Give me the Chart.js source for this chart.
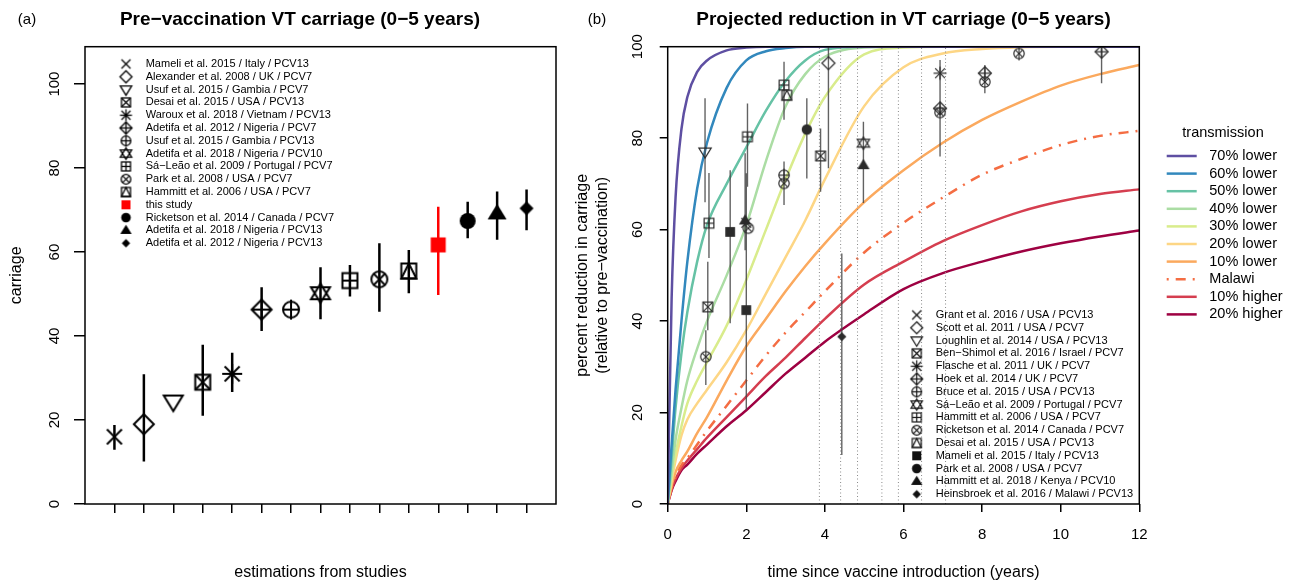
<!DOCTYPE html>
<html lang="en">
<head>
<meta charset="UTF-8">
<title>VT carriage before and after vaccination</title>
<script src="https://cdn.jsdelivr.net/npm/chart.js"></script>
<style>
  body { margin: 0; background: #fff; }
  #wrap { position: relative; width: 1295px; height: 586px; }
  canvas { position: absolute; top: 0; }
</style>
</head>
<body>
<div id="wrap">
  <canvas id="preChart" width="580" height="586" style="left:0"></canvas>
  <canvas id="redChart" width="735" height="586" style="left:560px"></canvas>
</div>
<script>
// ---------- panel (a): pre-vaccination carriage ----------
const preStudies = [
  'Mameli et al. 2015 / Italy / PCV13',
  'Alexander et al. 2008 / UK / PCV7',
  'Usuf et al. 2015 / Gambia / PCV7',
  'Desai et al. 2015 / USA / PCV13',
  'Waroux et al. 2018 / Vietnam / PCV13',
  'Adetifa et al. 2012 / Nigeria / PCV7',
  'Usuf et al. 2015 / Gambia / PCV13',
  'Adetifa et al. 2018 / Nigeria / PCV10',
  'Sá−Leão et al. 2009 / Portugal / PCV7',
  'Park et al. 2008 / USA / PCV7',
  'Hammitt et al. 2006 / USA / PCV7',
  'this study',
  'Ricketson et al. 2014 / Canada / PCV7',
  'Adetifa et al. 2018 / Nigeria / PCV13',
  'Adetifa et al. 2012 / Nigeria / PCV13'
];
const preGlyph = ['x', 'diamond', 'tridown', 'sqx', 'ast', 'diaplus', 'circplus', 'david',
                  'sqplus', 'circx', 'sqtri', 'fsq', 'fcirc', 'ftri', 'fdia'];
const preValue = [16, 19, 24.4, 29, 31, 46.3, 46.3, 50.2, 53.2, 53.5, 55.5, 61.7, 67.4, 69.2, 70.4];
const preLow   = [12.9, 10.1, null, 21, 26.7, 41.2, null, 44, 49.4, 45.8, 50.2, 49.8, 63.3, 62.9, 65.2];
const preHigh  = [18.8, 30.9, null, 37.9, 36, 51.6, null, 56.4, 56.9, 62.1, 60.5, 70.8, 72, 74.4, 74.9];
const thisStudy = 11; // index of the red entry

// ---------- panel (b): projected reduction ----------
const redStudies = [
  'Grant et al. 2016 / USA / PCV13',
  'Scott et al. 2011 / USA / PCV7',
  'Loughlin et al. 2014 / USA / PCV13',
  'Ben−Shimol et al. 2016 / Israel / PCV7',
  'Flasche et al. 2011 / UK / PCV7',
  'Hoek et al. 2014 / UK / PCV7',
  'Bruce et al. 2015 / USA / PCV13',
  'Sá−Leão et al. 2009 / Portugal / PCV7',
  'Hammitt et al. 2006 / USA / PCV7',
  'Ricketson et al. 2014 / Canada / PCV7',
  'Desai et al. 2015 / USA / PCV13',
  'Mameli et al. 2015 / Italy / PCV13',
  'Park et al. 2008 / USA / PCV7',
  'Hammitt et al. 2018 / Kenya / PCV10',
  'Heinsbroek et al. 2016 / Malawi / PCV13'
];
const redLegendGlyph = ['x', 'diamond', 'tridown', 'sqx', 'ast', 'diaplus', 'circplus', 'david',
                        'sqplus', 'circx', 'sqtri', 'fsq', 'fcirc', 'ftri', 'fdia'];

// observed reductions: time (years), value, interval, glyph
const obsT     = [0.95, 1.05, 1.02, 0.97, 1.59, 2.03, 1.97, 2.0, 2.05, 2.0, 2.96, 3.03, 2.96, 2.96, 3.54, 3.89, 4.09, 4.43, 4.98, 4.98, 6.93, 6.93, 6.93, 8.07, 8.07, 8.94, 11.04];
const obsV     = [77.0, 61.4, 43.1, 32.2, 59.5, 80.3, 62.0, 61.5, 60.3, 42.4, 91.6, 89.4, 71.9, 70.1, 81.9, 76.1, 96.4, 36.6, 78.9, 74.1, 94.2, 86.5, 85.6, 94.2, 92.3, 98.5, 98.9];
const obsLo    = [66, 53.8, 38, 26, 39.5, 69.4, 55.5, null, null, 20.6, 84, null, 65.4, null, 71.2, 68.3, 73.4, 10.7, 65.8, null, 76, null, null, 89.8, null, 97, 92];
const obsHi    = [88.7, 72.4, 53, 38, 73, 87.6, 76.7, null, null, 72.3, 96.7, null, 74.9, null, 88.7, 82.1, 100, 54.8, 83.6, null, 97.1, null, null, 96, null, 100, 100];
const obsGlyph = ['tridown', 'sqplus', 'sqx', 'circx', 'fsq', 'sqplus', 'ftri', 'x', 'circx', 'fsq', 'sqplus', 'sqtri', 'circplus', 'circx', 'fcirc', 'sqx', 'diamond', 'fdia', 'david', 'ftri', 'ast', 'diaplus', 'circx', 'diaplus', 'circx', 'circx', 'diaplus'];

// vertical reference times (dotted)
const refTimes = [3.86, 4.40, 4.83, 5.45, 5.87, 6.46, 7.07];

// model projections
const curveT = [0, 0.1, 0.2, 0.35, 0.5, 0.75, 1, 1.5, 2, 2.5, 3, 3.5, 4, 5, 6, 7, 8, 9, 10, 11, 12];
const low70  = [0, 45, 67, 82, 89, 94.5, 97, 99.2, 99.8, 100, 100, 100, 100, 100, 100, 100, 100, 100, 100, 100, 100];
const low60  = [0, 13, 25, 40, 53, 69, 79, 91, 97, 99, 99.7, 100, 100, 100, 100, 100, 100, 100, 100, 100, 100];
const low50  = [0, 10, 21, 33, 42, 53, 61, 70, 78, 86, 92.5, 97, 99.3, 100, 100, 100, 100, 100, 100, 100, 100];
const low40  = [0, 7, 14, 21, 27, 34, 40, 50, 61, 75, 87, 94, 97.8, 99.8, 100, 100, 100, 100, 100, 100, 100];
const low30  = [0, 6, 11, 17, 22, 27, 31, 39, 49, 60, 71, 81, 89, 98.3, 99.8, 100, 100, 100, 100, 100, 100];
const low20  = [0, 5, 9.5, 15, 18.5, 22, 25, 31, 38, 46, 54, 62, 71, 87, 95.5, 98.5, 99.5, 99.9, 100, 100, 100];
const low10  = [0, 4, 7, 9.5, 11.5, 15.5, 19, 27, 34.5, 40.5, 46.5, 52, 57, 66, 73, 79, 84, 88, 91.5, 94, 96];
const malawi = [0, 3.5, 6, 8.5, 10, 13, 16, 21.5, 27, 32.5, 37.5, 42, 46.5, 55, 61.5, 67, 72, 75.5, 78.5, 80.5, 81.6];
const high10 = [0, 3.2, 5.5, 7.8, 9.5, 12, 14.5, 19, 23.5, 28, 32, 36.3, 40.5, 48, 53, 57.5, 61, 64, 66.2, 67.8, 68.8];
const high20 = [0, 3, 5, 7.4, 8.6, 11, 13, 17, 20.5, 24.5, 28.5, 32, 35.5, 41.5, 47, 50.5, 53, 55.2, 57, 58.5, 59.8];

const scenarioLabels = ['70% lower', '60% lower', '50% lower', '40% lower', '30% lower',
                        '20% lower', '10% lower', 'Malawi', '10% higher', '20% higher'];
const scenarioValues = [low70, low60, low50, low40, low30, low20, low10, malawi, high10, high20];
const scenarioColors = ['#5E4FA2', '#3288BD', '#66C2A5', '#ABDDA4', '#D9EC8C',
                        '#FDD685', '#FBA95E', '#F46D43', '#D53E4F', '#9E0142'];
const dashDot = [2, 7, 10, 7];

const FONT = '"Liberation Sans", Arial, Helvetica, sans-serif';

// R-like plotting symbols drawn on small canvases, used as point styles
function glyph(kind, size, color, lw) {
  const s = Math.ceil(size + lw * 2 + 2);
  const c = document.createElement('canvas');
  c.width = s; c.height = s;
  const g = c.getContext('2d');
  const m = s / 2, r = size / 2, h = r * 0.75;
  g.strokeStyle = color; g.fillStyle = color; g.lineWidth = lw;
  const line = (x1, y1, x2, y2) => { g.beginPath(); g.moveTo(m + x1, m + y1); g.lineTo(m + x2, m + y2); g.stroke(); };
  const poly = (pts, fill) => {
    g.beginPath();
    pts.forEach((p, i) => i ? g.lineTo(m + p[0], m + p[1]) : g.moveTo(m + p[0], m + p[1]));
    g.closePath();
    fill ? g.fill() : g.stroke();
  };
  const circle = (rad, fill) => { g.beginPath(); g.arc(m, m, rad, 0, Math.PI * 2); fill ? g.fill() : g.stroke(); };
  const square = () => g.strokeRect(m - h, m - h, 2 * h, 2 * h);
  const diamond = (fill, k) => poly([[0, -r * k], [r * k, 0], [0, r * k], [-r * k, 0]], fill);
  const up = [[-r * 0.95, r * 0.6], [r * 0.95, r * 0.6], [0, -r * 0.95]];
  const down = [[-r * 0.95, -r * 0.6], [r * 0.95, -r * 0.6], [0, r * 0.95]];
  switch (kind) {
    case 'x': line(-h, -h, h, h); line(-h, h, h, -h); break;
    case 'diamond': diamond(false, 1); break;
    case 'tridown': poly(down, false); break;
    case 'sqx': square(); line(-h, -h, h, h); line(-h, h, h, -h); break;
    case 'ast': line(-r, 0, r, 0); line(0, -r, 0, r); line(-h, -h, h, h); line(-h, h, h, -h); break;
    case 'diaplus': diamond(false, 1); line(-r, 0, r, 0); line(0, -r, 0, r); break;
    case 'circplus': circle(r * 0.8, false); line(-r * 0.8, 0, r * 0.8, 0); line(0, -r, 0, r); break;
    case 'david': poly(up, false); poly(down, false); break;
    case 'sqplus': square(); line(-h, 0, h, 0); line(0, -h, 0, h); break;
    case 'circx': circle(r * 0.8, false); line(-h * 0.8, -h * 0.8, h * 0.8, h * 0.8); line(-h * 0.8, h * 0.8, h * 0.8, -h * 0.8); break;
    case 'sqtri': square(); poly([[-h, h], [h, h], [0, -h]], false); break;
    case 'fsq': g.fillRect(m - h, m - h, 2 * h, 2 * h); break;
    case 'fcirc': circle(r * 0.8, true); break;
    case 'ftri': poly(up, true); break;
    case 'fdia': diamond(true, 0.7); break;
  }
  return c;
}

function boxPlugin(id) {
  return {
    id: id,
    afterDatasetsDraw(chart) {
      const a = chart.chartArea, g = chart.ctx;
      g.save();
      g.strokeStyle = '#000'; g.lineWidth = 1.5;
      g.strokeRect(a.left, a.top, a.right - a.left, a.bottom - a.top);
      g.restore();
    }
  };
}

function text(g, str, x, y, font, align, rot) {
  g.save();
  g.font = font; g.fillStyle = '#000';
  g.textAlign = align || 'center'; g.textBaseline = 'middle';
  g.translate(x, y);
  if (rot) g.rotate(rot);
  g.fillText(str, 0, 0);
  g.restore();
}

function yTickLabels(chart, x) {
  const s = chart.scales.y;
  s.ticks.forEach(t => text(chart.ctx, String(t.value), x, s.getPixelForValue(t.value), '15px ' + FONT, 'center', -Math.PI / 2));
}

// ---------- chart (a) ----------
const preMarks = preGlyph.map((k, i) => glyph(k, 20, i === thisStudy ? '#f00' : '#000', 2));
const preLegendMarks = preGlyph.map((k, i) => glyph(k, 12, i === thisStudy ? '#f00' : '#000', 1.3));

function bars(xs, lo, hi, skip) {
  const out = [];
  xs.forEach((x, i) => {
    if (lo[i] == null || (skip && skip(i))) return;
    out.push({ x: x, y: lo[i] }, { x: x, y: hi[i] }, { x: x, y: null });
  });
  return out;
}

const preX = preValue.map((v, i) => i + 1);

new Chart(document.getElementById('preChart'), {
  type: 'scatter',
  data: {
    datasets: [
      {
        data: preX.map((x, i) => ({ x: x, y: preValue[i] })),
        pointStyle: preMarks, pointRadius: 6, order: 0
      },
      {
        data: bars(preX, preLow, preHigh, i => i === thisStudy),
        showLine: true, spanGaps: false, borderColor: '#000', borderWidth: 2.5,
        pointRadius: 0, order: 1
      },
      {
        data: bars(preX, preLow, preHigh, i => i !== thisStudy),
        showLine: true, spanGaps: false, borderColor: '#f00', borderWidth: 2.5,
        pointRadius: 0, order: 1
      }
    ]
  },
  options: {
    responsive: false,
    animation: false,
    layout: { padding: { top: 46.7, right: 24, bottom: 0, left: 0 } },
    scales: {
      x: {
        type: 'linear', min: 0, max: 16,
        afterFit: s => { s.height = 82; },
        afterBuildTicks: s => { s.ticks = preX.map(v => ({ value: v })); },
        ticks: { display: false },
        grid: { drawOnChartArea: false, tickLength: 9, color: '#000', lineWidth: 1.5 },
        border: { display: false }
      },
      y: {
        min: 0, max: 108.9,
        afterFit: s => { s.width = 85; },
        afterBuildTicks: s => { s.ticks = [0, 20, 40, 60, 80, 100].map(v => ({ value: v })); },
        ticks: { display: false },
        grid: { drawOnChartArea: false, tickLength: 11, color: '#000', lineWidth: 1.5 },
        border: { display: false }
      }
    },
    plugins: { legend: { display: false }, tooltip: { enabled: false } }
  },
  plugins: [boxPlugin('boxA'), {
    id: 'textA',
    afterDraw(chart) {
      const g = chart.ctx, a = chart.chartArea;
      text(g, '(a)', 27, 20, '15px ' + FONT);
      text(g, 'Pre−vaccination VT carriage (0−5 years)', 300, 20, 'bold 19px ' + FONT);
      text(g, 'carriage', 17, (a.top + a.bottom) / 2, '16px ' + FONT, 'center', -Math.PI / 2);
      text(g, 'estimations from studies', (a.left + a.right) / 2, 573, '16px ' + FONT);
      yTickLabels(chart, 55);
      preStudies.forEach((s, i) => {
        const y = 64 + i * 12.8;
        const m = preLegendMarks[i];
        g.drawImage(m, 126 - m.width / 2, y - m.height / 2);
        text(g, s, 145.7, y, '11px ' + FONT, 'left');
      });
    }
  }]
});

// ---------- chart (b) ----------
const obsMarks = obsGlyph.map(k => glyph(k, 13, '#2b2b2b', 1.2));
const redLegendMarks = redLegendGlyph.map(k => glyph(k, 12, '#111', 1.2));

const curveSets = scenarioValues.map((vals, i) => ({
  data: curveT.map((t, j) => ({ x: t, y: vals[j] })),
  showLine: true, pointRadius: 0, borderWidth: 2.5,
  borderColor: scenarioColors[i],
  borderDash: scenarioLabels[i] === 'Malawi' ? dashDot : [],
  cubicInterpolationMode: 'monotone',
  order: 10 + i
}));

const refLines = [];
refTimes.forEach(t => refLines.push({ x: t, y: 0 }, { x: t, y: 100 }, { x: t, y: null }));

new Chart(document.getElementById('redChart'), {
  type: 'scatter',
  data: {
    datasets: [
      { data: obsT.map((t, i) => ({ x: t, y: obsV[i] })), pointStyle: obsMarks, pointRadius: 6, order: 0 },
      {
        data: bars(obsT, obsLo, obsHi), showLine: true, spanGaps: false,
        borderColor: 'rgba(70,70,70,0.85)', borderWidth: 1.4, pointRadius: 0, order: 1
      },
      {
        data: refLines, showLine: true, spanGaps: false, borderColor: '#8a8a8a',
        borderWidth: 1, borderDash: [1, 2.5], pointRadius: 0, order: 5
      }
    ].concat(curveSets)
  },
  options: {
    responsive: false,
    animation: false,
    layout: { padding: { top: 46.7, right: 155.7, bottom: 0, left: 0 } },
    scales: {
      x: {
        type: 'linear', min: 0, max: 12,
        afterFit: s => { s.height = 82; },
        afterBuildTicks: s => { s.ticks = [0, 2, 4, 6, 8, 10, 12].map(v => ({ value: v })); },
        ticks: { display: false },
        grid: { drawOnChartArea: false, tickLength: 8, color: '#000', lineWidth: 1.5 },
        border: { display: false }
      },
      y: {
        min: 0, max: 100,
        afterFit: s => { s.width = 107.7; },
        afterBuildTicks: s => { s.ticks = [0, 20, 40, 60, 80, 100].map(v => ({ value: v })); },
        ticks: { display: false },
        grid: { drawOnChartArea: false, tickLength: 8, color: '#000', lineWidth: 1.5 },
        border: { display: false }
      }
    },
    plugins: { legend: { display: false }, tooltip: { enabled: false } }
  },
  plugins: [boxPlugin('boxB'), {
    id: 'textB',
    afterDraw(chart) {
      const g = chart.ctx, a = chart.chartArea, sx = chart.scales.x;
      const midY = (a.top + a.bottom) / 2;
      text(g, '(b)', 37, 20, '15px ' + FONT);
      text(g, 'Projected reduction in VT carriage (0−5 years)', (a.left + a.right) / 2, 20, 'bold 19px ' + FONT);
      text(g, 'percent reduction in carriage', 23, midY, '16px ' + FONT, 'center', -Math.PI / 2);
      text(g, '(relative to pre−vaccination)', 43, midY, '16px ' + FONT, 'center', -Math.PI / 2);
      text(g, 'time since vaccine introduction (years)', (a.left + a.right) / 2, 573, '16px ' + FONT);
      yTickLabels(chart, 78.3);
      sx.ticks.forEach(t => text(g, String(t.value), sx.getPixelForValue(t.value), 535, '15px ' + FONT));

      // study legend inside the plot
      redStudies.forEach((s, i) => {
        const y = 315 + i * 12.8;
        const m = redLegendMarks[i];
        g.drawImage(m, 356.7 - m.width / 2, y - m.height / 2);
        text(g, s, 375.7, y, '11px ' + FONT, 'left');
      });

      // transmission legend on the right
      const lx = a.right + 27.4;
      text(g, 'transmission', a.right + 83.7, 133.3, '14.5px ' + FONT);
      scenarioLabels.forEach((s, i) => {
        const y = 156 + i * 17.6;
        g.save();
        g.strokeStyle = scenarioColors[i]; g.lineWidth = 2.5;
        if (s === 'Malawi') g.setLineDash(dashDot);
        g.beginPath(); g.moveTo(lx, y); g.lineTo(lx + 30, y); g.stroke();
        g.restore();
        text(g, s, lx + 42.6, y, '14.5px ' + FONT, 'left');
      });
    }
  }]
});
</script>
</body>
</html>
